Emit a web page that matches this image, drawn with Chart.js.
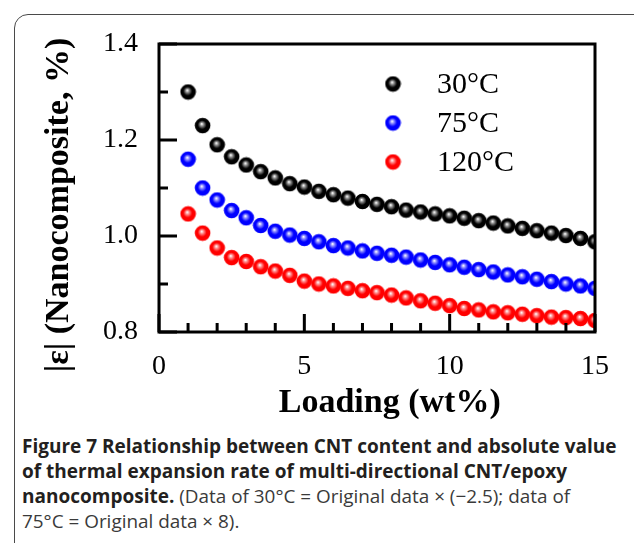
<!DOCTYPE html>
<html>
<head>
<meta charset="utf-8">
<script src="https://cdn.jsdelivr.net/npm/chart.js@4.4.0/dist/chart.umd.min.js"></script>
<style>
body{margin:0;background:#fff;width:634px;height:543px;overflow:hidden;position:relative;}
#frame{position:absolute;left:14px;top:14px;width:660px;height:580px;border:1.5px solid #4a4a4a;border-radius:14px;}
#wrap{position:absolute;left:0;top:0;}
#cap{position:absolute;left:22px;top:434px;white-space:nowrap;font-family:"Open Sans";font-size:19px;line-height:25px;color:#231f20;}
#cap b{font-weight:700;}
#cap span{color:#3a3a3a;font-size:18.9px;}
</style>
</head>
<body>
<div id="frame"></div>
<div id="wrap"><canvas id="canvas" width="634" height="430"></canvas></div>
<div id="cap"><b>Figure 7 Relationship between CNT content and absolute value<br>of thermal expansion rate of multi-directional CNT/epoxy<br>nanocomposite.</b><span> (Data of 30°C = Original data × (−2.5); data of<br>75°C = Original data × 8).</span></div>
<script>
// data
var loading = [1, 1.5, 2, 2.5, 3, 3.5, 4, 4.5, 5, 5.5, 6, 6.5, 7, 7.5, 8, 8.5, 9, 9.5, 10, 10.5, 11, 11.5, 12, 12.5, 13, 13.5, 14, 14.5, 15];
var t30 = [1.300, 1.230, 1.190, 1.165, 1.148, 1.134, 1.121, 1.109, 1.102, 1.093, 1.086, 1.079, 1.072, 1.066, 1.061, 1.054, 1.050, 1.046, 1.042, 1.037, 1.032, 1.027, 1.021, 1.016, 1.011, 1.006, 1.001, 0.995, 0.988];
var t75 = [1.160, 1.100, 1.075, 1.053, 1.038, 1.022, 1.010, 1.002, 0.995, 0.988, 0.980, 0.975, 0.969, 0.964, 0.960, 0.956, 0.950, 0.945, 0.940, 0.935, 0.930, 0.925, 0.919, 0.915, 0.910, 0.905, 0.900, 0.896, 0.891];
var t120 = [1.046, 1.006, 0.975, 0.955, 0.947, 0.936, 0.927, 0.918, 0.906, 0.900, 0.896, 0.891, 0.886, 0.882, 0.877, 0.871, 0.865, 0.860, 0.855, 0.849, 0.846, 0.842, 0.840, 0.837, 0.834, 0.831, 0.830, 0.828, 0.824];
var seriesNames = ['30°C', '75°C', '120°C'];
var xTicks = [0, 5, 10, 15];
var xMinor = [1, 2, 3, 4, 6, 7, 8, 9, 11, 12, 13, 14];
var yTicks = [0.8, 1.0, 1.2, 1.4];
var yMinor = [0.9, 1.1, 1.3];

var serif = '"Liberation Serif", "Times New Roman", serif';

// shiny ball marker
function ball(base, shine) {
    var r = 7.8, c = document.createElement('canvas');
    c.width = 17; c.height = 17;
    var g = c.getContext('2d');
    var grd = g.createRadialGradient(7.6, 6.8, 0.3, 8.5, 8.5, r);
    grd.addColorStop(0, '#ffffff');
    grd.addColorStop(0.18, shine);
    grd.addColorStop(0.55, base);
    grd.addColorStop(1, base);
    g.fillStyle = grd;
    g.beginPath();
    g.arc(8.5, 8.5, r, 0, Math.PI * 2);
    g.fill();
    return c;
}
var balls = [ball('#000000', '#9a9a9a'), ball('#0000ff', '#9a9aff'), ball('#ff0000', '#ff9a9a')];

function pts(vals) {
    return loading.map(function (v, i) { return {x: v, y: vals[i]}; });
}

var frame = {
    id: 'frame',
    afterDatasetsDraw: function (chart) {
        var ctx = chart.ctx, a = chart.chartArea, x = chart.scales.x, y = chart.scales.y;
        ctx.save();
        ctx.strokeStyle = '#000';
        ctx.lineWidth = 3;
        ctx.strokeRect(a.left, a.top, a.right - a.left, a.bottom - a.top);
        ctx.beginPath();
        xTicks.forEach(function (v) { var p = x.getPixelForValue(v); ctx.moveTo(p, a.bottom); ctx.lineTo(p, a.bottom - 18); });
        xMinor.forEach(function (v) { var p = x.getPixelForValue(v); ctx.moveTo(p, a.bottom); ctx.lineTo(p, a.bottom - 9); });
        yTicks.forEach(function (v) { var p = y.getPixelForValue(v); ctx.moveTo(a.left, p); ctx.lineTo(a.left + 18, p); });
        yMinor.forEach(function (v) { var p = y.getPixelForValue(v); ctx.moveTo(a.left, p); ctx.lineTo(a.left + 9, p); });
        ctx.stroke();
        ctx.restore();
    },
    afterDraw: function (chart) {
        var ctx = chart.ctx;
        ctx.save();
        ctx.font = '30px ' + serif;
        ctx.fillStyle = '#000';
        ctx.textBaseline = 'middle';
        chart.data.datasets.forEach(function (ds, i) {
            var cy = 84 + 39 * i;
            ctx.drawImage(balls[i], 393 - 8.5, cy - 8.5);
            ctx.fillText(ds.label, 437, cy + 1);
        });
        ctx.restore();
    }
};

new Chart(document.getElementById('canvas'), {
    type: 'scatter',
    data: {
        datasets: [
            {label: seriesNames[0], data: pts(t30), pointStyle: balls[0], clip: 0},
            {label: seriesNames[1], data: pts(t75), pointStyle: balls[1], clip: 0},
            {label: seriesNames[2], data: pts(t120), pointStyle: balls[2], clip: 0}
        ]
    },
    options: {
        responsive: false,
        animation: false,
        layout: {padding: {left: 0, right: 39, top: 44, bottom: 0}},
        plugins: {legend: {display: false}, tooltip: {enabled: false}},
        scales: {
            x: {
                type: 'linear', min: 0, max: 15,
                afterBuildTicks: function (s) { s.ticks = xTicks.map(function (v) { return {value: v}; }); },
                afterFit: function (s) { s.height = 98; },
                grid: {display: false, drawTicks: false},
                border: {display: false},
                ticks: {font: {family: serif, size: 28}, color: '#000', padding: 18, maxRotation: 0},
                // leading spaces nudge the centred title to the right, as in the figure
                title: {display: true, text: '   Loading (wt%)', font: {family: serif, size: 34, weight: 'bold'}, color: '#000', padding: {top: 0, bottom: 6}}
            },
            y: {
                min: 0.8, max: 1.4,
                afterBuildTicks: function (s) { s.ticks = yTicks.map(function (v) { return {value: v}; }); },
                afterFit: function (s) { s.width = 159; },
                grid: {display: false, drawTicks: false},
                border: {display: false},
                ticks: {font: {family: serif, size: 28}, color: '#000', padding: 21,
                    callback: function (v) { return v.toFixed(1); }},
                // trailing spaces push the rotated title downward
                title: {display: true, text: '|ε| (Nanocomposite, %)    ', font: {family: serif, size: 34, weight: 'bold'}, color: '#000', padding: {top: 39, bottom: 0}}
            }
        }
    },
    plugins: [frame]
});
</script>
</body>
</html>
